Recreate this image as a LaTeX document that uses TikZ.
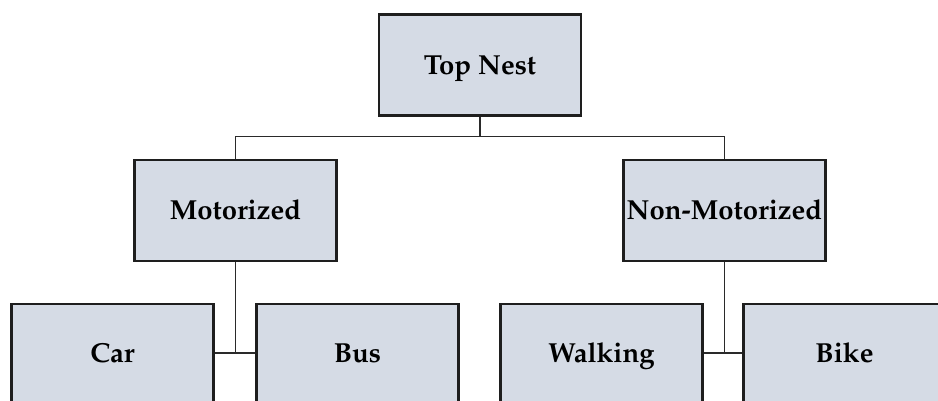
\documentclass[tikz,border=0pt]{standalone}
\usepackage[T1]{fontenc}
\usepackage{mathpazo}
\usetikzlibrary{calc}
\definecolor{boxfill}{HTML}{D5DBE5}
\definecolor{boxline}{HTML}{1E1E1E}
\definecolor{connline}{HTML}{2A2A2A}
\begin{document}
\begin{tikzpicture}[x=1pt,y=-1pt,
  box/.style={draw=boxline, line width=2.6pt, fill=boxfill, minimum width=202pt, minimum height=101pt, inner sep=0pt, font=\bfseries\fontsize{27.5}{32}\selectfont, text=black, text height=18.8pt, text depth=0pt},
  leaf/.style={box, minimum height=98pt},
  conn/.style={draw=connline, line width=1.3pt}]
\useasboundingbox (0,0) rectangle (938,401);
\clip (0,0) rectangle (938,401);
\fill[white] (0,0) rectangle (938,401);
\node[box] (top) at (480,65) {Top Nest};
\node[box] (mot) at (235.5,210.5) {Motorized};
\node[box] (nonm) at (724.5,210.5) {Non-Motorized};
\node[leaf] (car) at (112.5,353) {Car};
\node[leaf] (bus) at (357.5,353) {Bus};
\node[leaf] (walk) at (601.5,353) {Walking};
\node[leaf] (bike) at (844.5,353) {Bike};
\coordinate (hub) at ($(top.south)+(0,20)$);
\draw[conn] (top.south) -- (hub);
\draw[conn] (mot.north) |- (hub) -| (nonm.north);
\draw[conn] (mot.south) -- (mot.south |- car.east);
\draw[conn] (car.east) -- (bus.west);
\draw[conn] (nonm.south) -- (nonm.south |- walk.east);
\draw[conn] (walk.east) -- (bike.west);
\end{tikzpicture}
\end{document}
